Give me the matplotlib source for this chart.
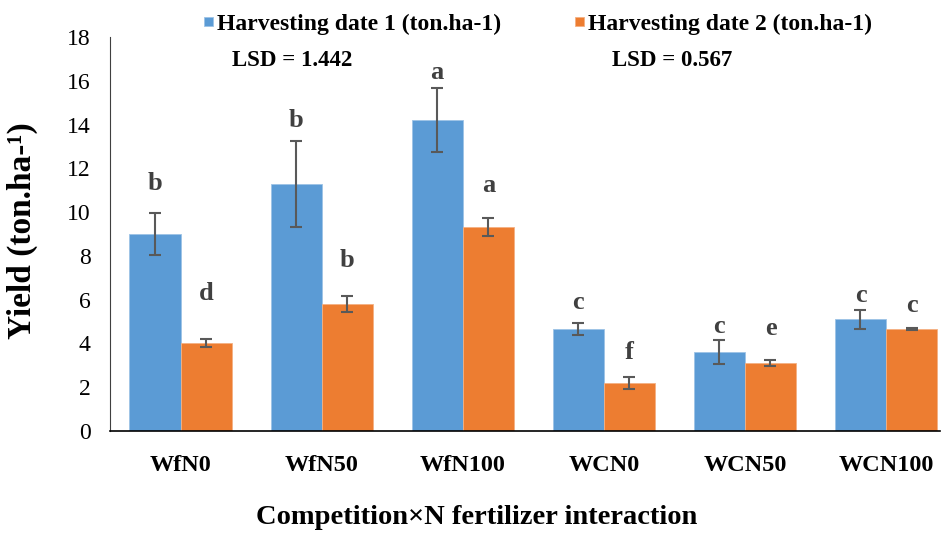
import numpy as np
import matplotlib
matplotlib.use("Agg")
import matplotlib.pyplot as plt

# data
groups = ["WfN0", "WfN50", "WfN100", "WCN0", "WCN50", "WCN100"]
date1 = [9.0, 11.28, 14.2, 4.66, 3.6, 5.11]
date1_err = [0.97, 1.97, 1.46, 0.27, 0.55, 0.43]
date2 = [4.02, 5.8, 9.32, 2.19, 3.1, 4.66]
date2_err = [0.2, 0.37, 0.41, 0.27, 0.15, 0.03]
letters1 = ["b", "b", "a", "c", "c", "c"]
letters2 = ["d", "b", "a", "f", "e", "c"]
# heights where the significance letters sit
letter_y1 = [11.3, 14.2, 16.4, 5.85, 4.75, 6.2]
letter_y2 = [6.3, 7.8, 11.2, 3.6, 4.7, 5.75]

blue = "#5B9BD5"
orange = "#ED7D31"
serif = ["Liberation Serif", "DejaVu Serif"]
plt.rcParams["font.family"] = serif

fig = plt.figure(figsize=(9.44, 5.34), dpi=100)
ax = fig.add_axes([0.1165, 0.193, 0.8793, 0.7377])

x = np.arange(len(groups))
w = 0.362
ax.bar(x - w / 2, date1, w, color=blue, edgecolor="#9DC3E6", linewidth=0.6,
       label="Harvesting date 1 (ton.ha-1)")
ax.bar(x + w / 2, date2, w, color=orange, edgecolor="#F4B183", linewidth=0.6,
       label="Harvesting date 2 (ton.ha-1)")
ax.errorbar(x - w / 2, date1, yerr=date1_err, fmt="none", ecolor="#595959",
            elinewidth=1.5, capsize=4.5, capthick=1.5)
ax.errorbar(x + w / 2, date2, yerr=date2_err, fmt="none", ecolor="#595959",
            elinewidth=1.5, capsize=4.5, capthick=1.5)

for i in range(len(groups)):
    ax.text(x[i] - w / 2, letter_y1[i], letters1[i], ha="center", va="center",
            fontsize=19, fontweight="bold", color="#404040")
    ax.text(x[i] + w / 2, letter_y2[i], letters2[i], ha="center", va="center",
            fontsize=19, fontweight="bold", color="#404040")

ax.set_xlim(-0.5, 5.383)
ax.set_ylim(0, 18)
ax.set_yticks(range(0, 19, 2))
ax.set_xticks(x)
ax.set_xticklabels(groups, fontsize=17.5, fontweight="bold")
for t in ax.get_yticklabels():
    t.set_fontsize(17)
ax.tick_params(axis="y", length=0, pad=14)
ax.tick_params(axis="x", length=0, pad=17)
for s in ["top", "right"]:
    ax.spines[s].set_visible(False)
ax.spines["left"].set_color("#404040")
ax.spines["bottom"].set_color("black")
ax.spines["bottom"].set_linewidth(1.2)

fig.text(22 / 944, 1 - 231 / 534, "Yield (ton.ha-\u00b9)", rotation=90,
         ha="center", va="center", fontsize=24, fontweight="bold")
fig.text(477 / 944, 1 - 517 / 534, "Competition\u00d7N fertilizer interaction",
         ha="center", va="center", fontsize=20.5, fontweight="bold")

ax.legend(loc="center", bbox_to_anchor=(0.570, 0.955), bbox_transform=fig.transFigure,
          ncol=2, frameon=False, prop={"weight": "bold", "size": 17},
          handlelength=0.38, handleheight=0.21, handletextpad=0.2, columnspacing=3.1)

fig.text(292 / 944, 1 - 61 / 534, "LSD = 1.442", ha="center", va="center",
         fontsize=16.5, fontweight="bold")
fig.text(672 / 944, 1 - 61 / 534, "LSD = 0.567", ha="center", va="center",
         fontsize=16.5, fontweight="bold")

fig.savefig("out.png", dpi=100)
